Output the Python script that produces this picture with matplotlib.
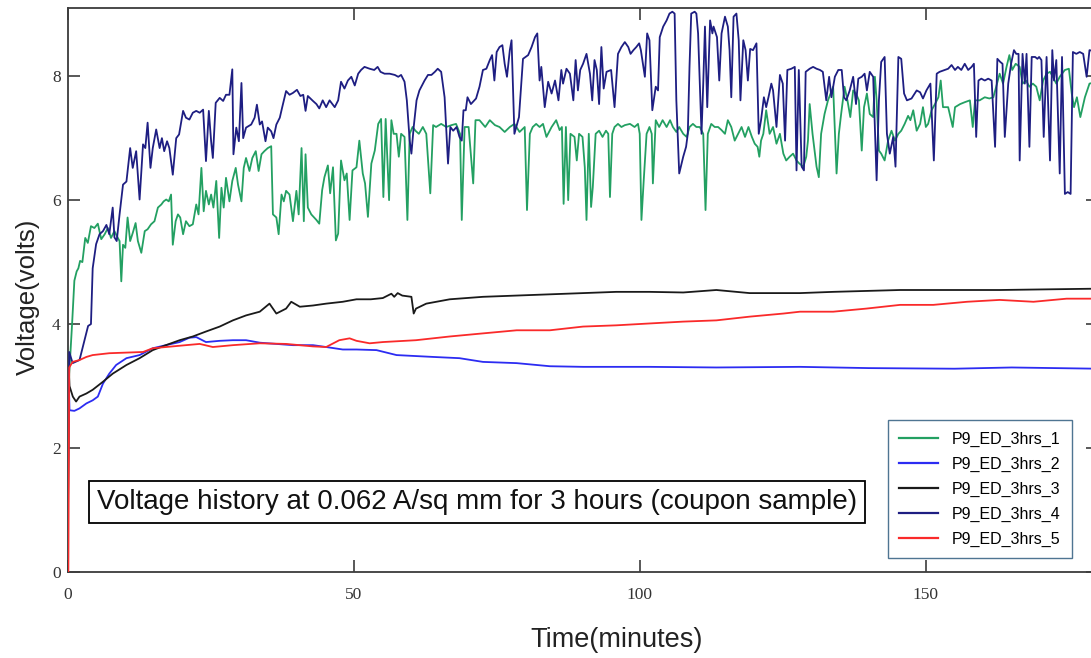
import matplotlib.pyplot as plt
import numpy as np

LABELS = ["P9_ED_3hrs_1", "P9_ED_3hrs_2", "P9_ED_3hrs_3", "P9_ED_3hrs_4", "P9_ED_3hrs_5"]
COLORS = ["#23a062", "#2c2cf2", "#1a1a1a", "#1e1e82", "#fa2a2a"]
TITLE = "Voltage history at 0.062 A/sq mm for 3 hours (coupon sample)"

# (time in minutes, voltage)
run_1 = np.array([
    (0, 0), (0.3, 3.2), (0.8, 4.0), (1.2, 4.7), (1.6, 4.85), (1.9, 4.9), (2.2, 5.02), (2.6, 5.0),
    (3.1, 5.39), (3.55, 5.31), (4.1, 5.58), (4.7, 5.55), (5.3, 5.62), (5.9, 5.37), (6.5, 5.45),
    (7.05, 5.55), (7.6, 5.39), (8.2, 5.5), (8.8, 5.39), (9.1, 5.34), (9.4, 4.69), (9.7, 5.28),
    (10.1, 5.23), (10.5, 5.72), (10.95, 5.34), (11.4, 5.47), (11.9, 5.63), (12.3, 5.34), (12.9, 5.15),
    (13.5, 5.5), (14.0, 5.53), (14.6, 5.61), (15.2, 5.66), (15.8, 5.88), (16.4, 5.93), (16.8, 5.98),
    (17.25, 6.01), (17.7, 5.98), (18.1, 6.09), (18.4, 5.28), (18.9, 5.66), (19.3, 5.77), (19.7, 5.72),
    (20.2, 5.45), (20.7, 5.66), (21.3, 5.58), (21.9, 5.61), (22.5, 5.93), (22.9, 5.77), (23.4, 6.52),
    (23.8, 5.82), (24.2, 6.15), (24.7, 5.93), (25.1, 6.09), (25.5, 5.88), (26.0, 6.31), (26.5, 5.39),
    (26.9, 6.2), (27.3, 5.88), (27.7, 6.36), (28.3, 5.98), (28.8, 6.31), (29.4, 6.52), (29.8, 6.25),
    (30.4, 5.98), (30.8, 6.52), (31.2, 6.68), (31.8, 6.47), (32.3, 6.68), (32.9, 6.79), (33.4, 6.47),
    (33.9, 6.74), (34.4, 6.79), (35.0, 6.84), (35.6, 6.87), (35.9, 5.77), (36.5, 5.72), (36.9, 5.45),
    (37.4, 6.09), (37.8, 5.98), (38.2, 6.15), (38.8, 6.09), (39.4, 5.66), (40.0, 6.15), (40.4, 5.77),
    (40.9, 6.84), (41.3, 5.66), (41.6, 6.74), (42.0, 5.88), (42.6, 5.77), (43.5, 5.68), (44.0, 5.62),
    (44.5, 6.16), (44.9, 6.37), (45.5, 6.56), (45.9, 6.11), (46.4, 6.53), (46.9, 5.35), (47.3, 5.46),
    (47.8, 6.64), (48.4, 6.32), (48.8, 6.43), (49.3, 5.68), (49.8, 6.48), (50.5, 6.53), (51.0, 6.96),
    (51.6, 6.43), (52.0, 6.27), (52.5, 5.73), (53.1, 6.59), (53.7, 6.8), (54.3, 7.23), (54.8, 7.31),
    (55.2, 6.05), (55.6, 7.31), (56.2, 6.0), (56.6, 7.29), (57.0, 7.07), (57.5, 7.07), (57.9, 6.7),
    (58.3, 7.07), (58.9, 7.02), (59.4, 5.68), (59.8, 7.07), (60.3, 7.18), (60.8, 7.12), (61.4, 7.07),
    (62.1, 7.18), (62.7, 7.07), (63.4, 6.11), (63.9, 7.21), (64.4, 7.18), (65.3, 7.23), (66.2, 7.18),
    (67.1, 7.21), (67.9, 7.23), (68.6, 7.07), (68.9, 5.68), (69.4, 7.18), (70.1, 7.18), (70.9, 6.27),
    (71.3, 7.29), (72.0, 7.29), (73.0, 7.18), (73.8, 7.29), (74.7, 7.21), (75.5, 7.18), (76.4, 7.1),
    (77.3, 7.18), (78.1, 7.23), (79.0, 7.1), (79.9, 7.18), (80.3, 5.84), (80.8, 7.07), (81.3, 7.18),
    (81.9, 7.23), (82.5, 7.18), (83.1, 7.23), (83.7, 7.02), (84.6, 7.18), (85.4, 7.29), (86.0, 7.13),
    (86.4, 7.18), (86.7, 5.94), (87.1, 7.18), (87.5, 6.0), (87.9, 7.07), (88.6, 7.02), (89.0, 6.64),
    (89.4, 7.07), (90.0, 7.02), (90.4, 6.53), (90.7, 5.68), (91.1, 7.07), (91.5, 5.89), (91.8, 6.21),
    (92.3, 7.07), (92.9, 7.12), (93.5, 7.02), (94.1, 7.12), (94.5, 7.07), (94.8, 6.05), (95.2, 7.07),
    (95.6, 7.18), (96.2, 7.23), (96.8, 7.18), (97.4, 7.21), (98.3, 7.23), (99.1, 7.18), (99.7, 7.23),
    (100.0, 7.07), (100.3, 5.68), (100.7, 6.32), (101.2, 7.07), (101.7, 7.18), (102.1, 7.07),
    (102.3, 6.27), (102.8, 7.29), (103.4, 7.18), (104.0, 7.29), (104.7, 7.18), (105.3, 7.29),
    (105.8, 7.18), (106.4, 7.1), (106.9, 7.18), (107.6, 7.07), (108.2, 7.02), (108.7, 7.18),
    (109.3, 7.23), (109.9, 7.18), (110.5, 7.18), (111.1, 7.07), (111.5, 5.84), (111.9, 7.07),
    (112.5, 7.23), (113.1, 7.18), (113.7, 7.18), (114.3, 7.13), (114.9, 7.07), (115.4, 7.29),
    (116.0, 7.18), (116.6, 6.96), (117.2, 7.07), (117.8, 7.18), (118.4, 7.02), (119.0, 7.18),
    (119.6, 7.02), (120.1, 6.91), (120.6, 6.86), (120.9, 6.7), (121.2, 6.96), (121.6, 7.07),
    (122.1, 7.45), (122.7, 7.07), (123.3, 7.18), (123.9, 6.91), (124.5, 7.07), (125.1, 6.75),
    (125.6, 6.64), (126.2, 6.7), (126.8, 6.75), (127.4, 6.64), (127.9, 6.59), (128.6, 6.54),
    (129.1, 6.7), (129.4, 6.96), (129.7, 7.55), (130.2, 7.07), (130.9, 6.54), (131.3, 6.37),
    (131.7, 7.07), (132.3, 7.39), (132.9, 7.61), (133.8, 7.83), (134.4, 6.43), (134.8, 7.07),
    (135.2, 7.39), (135.8, 7.83), (136.3, 7.61), (136.8, 7.34), (137.3, 7.77), (137.8, 7.72),
    (138.3, 7.61), (138.8, 6.8), (139.2, 7.5), (139.7, 7.72), (140.2, 7.39), (140.8, 7.34),
    (141.1, 7.99), (141.4, 7.61), (141.8, 6.8), (142.2, 6.75), (142.8, 6.64), (143.4, 6.96),
    (144.0, 7.12), (144.6, 6.96), (145.2, 7.07), (145.7, 7.12), (146.3, 7.23), (146.9, 7.36),
    (147.3, 7.29), (147.8, 7.45), (148.4, 7.12), (149.0, 7.23), (149.5, 7.5), (150.0, 7.18),
    (150.4, 7.23), (151.0, 7.45), (151.6, 7.55), (152.2, 7.66), (152.6, 7.93), (153.0, 7.5),
    (153.9, 7.5), (154.7, 7.18), (155.1, 7.5), (156.0, 7.55), (156.8, 7.58), (157.7, 7.61),
    (158.2, 7.18), (158.6, 7.61), (159.4, 7.61), (160.3, 7.66), (161.1, 7.64), (161.8, 7.66),
    (162.3, 7.83), (162.9, 8.04), (163.5, 7.88), (164.1, 8.15), (164.6, 8.34), (165.1, 8.1),
    (165.7, 8.2), (166.4, 8.15), (166.9, 7.88), (167.5, 7.93), (168.1, 7.83), (168.7, 7.88),
    (169.3, 7.83), (169.9, 7.61), (170.5, 7.93), (171.1, 8.04), (171.7, 8.07), (172.2, 7.99),
    (172.8, 7.88), (173.4, 7.99), (174.3, 8.1), (175.0, 8.12), (175.5, 7.72), (175.9, 7.5),
    (176.4, 7.66), (177.0, 7.34), (177.8, 7.66), (178.6, 7.88), (179.5, 7.9),
])

run_2 = np.array([
    (0, 0), (0.2, 3.2), (0.35, 2.61), (1.2, 2.6), (2.1, 2.64), (3.3, 2.72), (4.4, 2.77), (5.3, 2.83),
    (6.2, 3.04), (7.3, 3.2), (8.5, 3.34), (10.3, 3.45), (12.6, 3.5), (14.9, 3.61), (17.2, 3.66),
    (19.6, 3.71), (21.3, 3.78), (22.5, 3.79), (24.2, 3.71), (26.6, 3.73), (28.9, 3.74), (31.2, 3.74),
    (33.6, 3.7), (36.5, 3.68), (39.4, 3.66), (42.9, 3.66), (45.2, 3.63), (48.1, 3.59), (50.5, 3.59),
    (54.0, 3.58), (57.5, 3.5), (63.9, 3.47), (68.5, 3.45), (72.6, 3.39), (78.5, 3.37), (84.3, 3.32),
    (90.1, 3.31), (101.7, 3.31), (113.4, 3.3), (128.0, 3.31), (140.0, 3.29), (155.0, 3.28),
    (165.0, 3.3), (180.0, 3.28),
])

run_3 = np.array([
    (0, 0), (0.2, 3.3), (0.35, 3.0), (0.93, 2.83), (1.5, 2.75), (2.1, 2.83), (3.3, 2.88), (4.4, 2.94),
    (6.2, 3.07), (7.9, 3.2), (10.3, 3.34), (12.6, 3.45), (14.9, 3.58), (17.2, 3.66), (19.6, 3.74),
    (21.9, 3.8), (24.2, 3.88), (26.6, 3.96), (28.9, 4.06), (31.2, 4.14), (33.6, 4.2), (35.3, 4.33),
    (36.5, 4.17), (38.2, 4.25), (39.1, 4.36), (40.6, 4.28), (42.9, 4.3), (45.2, 4.33), (48.1, 4.36),
    (50.5, 4.4), (53.0, 4.4), (55.1, 4.42), (56.6, 4.49), (57.1, 4.44), (57.7, 4.5), (58.5, 4.46),
    (60.1, 4.44), (60.5, 4.17), (60.9, 4.25), (62.7, 4.33), (66.8, 4.4), (72.6, 4.44), (81.3, 4.47),
    (90.1, 4.5), (95.9, 4.52), (101.7, 4.52), (107.6, 4.51), (113.4, 4.55), (119.2, 4.5),
    (128.0, 4.5), (133.8, 4.52), (145.5, 4.55), (162.9, 4.55), (178.7, 4.57), (180.0, 4.57),
])

run_4 = np.array([
    (0, 0), (0.3, 3.55), (0.9, 3.37), (2.1, 3.42), (3.0, 3.75), (3.6, 3.97), (4.1, 4.0), (4.4, 4.9),
    (5.0, 5.29), (5.6, 5.45), (6.2, 5.5), (6.8, 5.6), (7.3, 5.45), (7.9, 5.88), (8.2, 5.4), (8.6, 5.34),
    (9.1, 5.77), (9.7, 6.25), (10.3, 6.3), (10.95, 6.84), (11.4, 6.52), (12.0, 6.79), (12.6, 6.01),
    (13.2, 6.9), (13.6, 6.84), (14.0, 7.25), (14.5, 6.52), (14.9, 6.84), (15.5, 7.14), (16.1, 6.84),
    (16.5, 7.0), (16.9, 6.79), (17.4, 6.95), (17.8, 6.84), (18.4, 6.41), (19.0, 7.0), (19.5, 7.06),
    (20.2, 7.44), (20.7, 7.33), (21.3, 7.3), (21.9, 7.41), (22.5, 7.44), (23.1, 7.41), (23.7, 7.46),
    (24.2, 6.63), (24.7, 7.44), (25.1, 6.95), (25.4, 6.68), (25.9, 7.57), (26.6, 7.65), (27.2, 7.6),
    (27.7, 7.7), (28.3, 7.7), (28.8, 8.11), (29.0, 6.74), (29.5, 7.17), (29.95, 6.95), (30.4, 7.89),
    (30.7, 7.0), (31.2, 7.17), (32.1, 7.22), (32.7, 7.33), (33.1, 7.54), (33.6, 7.22), (34.0, 7.27),
    (34.6, 6.95), (35.0, 7.17), (35.6, 7.11), (36.0, 7.0), (36.5, 7.22), (37.1, 7.33), (37.5, 7.49),
    (38.2, 7.76), (38.8, 7.7), (39.4, 7.73), (40.1, 7.78), (40.7, 7.68), (41.2, 7.7), (41.6, 7.44),
    (42.0, 7.68), (42.9, 7.6), (43.5, 7.55), (44.0, 7.48), (44.6, 7.61), (45.2, 7.5), (45.8, 7.61),
    (46.7, 7.5), (47.3, 7.61), (47.8, 7.91), (48.4, 7.8), (49.0, 7.93), (49.6, 7.99), (50.2, 7.85),
    (50.8, 8.04), (51.3, 8.1), (51.9, 8.15), (52.8, 8.12), (53.6, 8.1), (54.2, 8.15), (54.7, 8.07),
    (55.4, 8.04), (56.3, 8.04), (57.2, 8.02), (57.8, 7.99), (58.3, 8.02), (58.9, 7.91), (59.3, 7.61),
    (59.8, 6.96), (60.1, 6.75), (60.5, 7.18), (61.0, 7.61), (61.5, 7.77), (62.4, 7.93), (63.0, 8.02),
    (63.6, 8.02), (64.2, 8.07), (64.7, 8.12), (65.3, 8.07), (65.9, 7.66), (66.5, 6.59), (66.9, 7.18),
    (67.4, 7.12), (68.0, 7.18), (68.5, 7.02), (68.9, 6.96), (69.2, 7.45), (69.6, 7.45), (69.9, 7.66),
    (70.5, 7.55), (71.4, 7.64), (72.0, 7.83), (72.6, 8.1), (73.2, 8.12), (73.8, 8.26), (74.2, 8.34),
    (74.6, 7.93), (75.0, 8.39), (75.5, 8.47), (76.0, 8.5), (76.4, 8.2), (76.8, 7.99), (77.3, 8.42),
    (77.6, 8.58), (78.1, 7.07), (78.9, 7.34), (79.6, 8.28), (80.5, 8.34), (81.1, 8.47), (81.7, 8.63),
    (82.1, 8.69), (82.5, 7.93), (82.8, 8.15), (83.4, 7.5), (84.0, 7.91), (84.6, 7.72), (85.2, 7.93),
    (85.8, 7.61), (86.3, 8.1), (86.6, 7.88), (87.2, 8.12), (87.8, 8.04), (88.4, 7.61), (88.8, 8.26),
    (89.2, 7.77), (89.6, 8.1), (90.1, 8.2), (90.7, 8.36), (91.3, 8.04), (91.7, 7.61), (92.1, 8.26),
    (92.5, 8.1), (92.9, 7.55), (93.3, 8.47), (93.7, 7.8), (94.2, 8.07), (95.0, 8.1), (95.6, 7.5),
    (96.2, 8.36), (96.8, 8.47), (97.4, 8.55), (98.0, 8.47), (98.4, 8.36), (98.9, 8.42), (99.4, 8.47),
    (99.9, 8.53), (100.2, 8.42), (100.9, 7.99), (101.3, 8.69), (101.7, 8.58), (102.2, 7.45),
    (102.8, 7.83), (103.2, 7.77), (103.5, 8.63), (104.1, 8.8), (104.7, 8.9), (105.2, 9.01),
    (105.7, 9.04), (106.1, 9.01), (106.4, 7.61), (106.9, 6.43), (107.6, 6.7), (108.1, 6.86),
    (108.4, 7.07), (108.7, 8.15), (109.0, 9.01), (109.6, 9.04), (109.9, 9.01), (110.2, 8.69),
    (110.8, 7.07), (111.1, 7.88), (111.4, 8.8), (111.8, 7.5), (112.3, 8.9), (112.7, 8.69),
    (112.9, 8.8), (113.5, 8.63), (113.9, 7.93), (114.3, 8.69), (114.9, 8.96), (115.4, 8.8),
    (115.7, 8.42), (116.0, 7.66), (116.4, 8.96), (116.9, 9.01), (117.3, 8.58), (117.6, 7.61),
    (118.1, 8.58), (118.5, 8.42), (118.9, 7.93), (119.3, 8.44), (119.8, 8.42), (120.4, 8.53),
    (120.8, 7.07), (121.2, 7.29), (121.7, 7.66), (122.1, 7.5), (122.5, 7.66), (123.0, 7.88),
    (123.3, 7.77), (123.9, 7.18), (124.5, 8.02), (125.0, 7.88), (125.4, 6.96), (125.8, 8.1),
    (126.5, 8.12), (127.1, 8.15), (127.4, 6.48), (127.8, 8.1), (128.3, 6.54), (128.7, 6.48),
    (129.0, 8.07), (129.7, 8.12), (130.3, 8.15), (130.9, 8.12), (131.5, 8.1), (132.0, 8.07),
    (132.6, 7.61), (133.1, 7.99), (133.5, 7.66), (134.1, 7.99), (134.7, 8.1), (135.3, 8.1),
    (135.7, 7.66), (136.1, 7.61), (136.7, 7.77), (137.3, 7.99), (137.8, 7.55), (138.2, 7.96),
    (138.8, 7.99), (139.3, 8.04), (139.7, 7.77), (140.2, 8.07), (140.8, 7.99), (141.4, 6.32),
    (141.8, 7.61), (142.2, 8.23), (142.8, 8.31), (143.2, 7.07), (143.7, 6.75), (144.3, 7.02),
    (144.7, 6.54), (145.2, 8.31), (145.7, 8.28), (146.2, 7.72), (146.7, 7.61), (147.5, 7.64),
    (148.4, 7.77), (149.0, 7.74), (149.5, 7.64), (150.1, 7.77), (150.8, 7.88), (151.4, 6.64),
    (151.9, 8.04), (152.4, 8.07), (153.3, 8.1), (153.9, 8.12), (154.5, 8.18), (155.1, 8.1),
    (155.6, 8.15), (156.2, 8.1), (156.8, 8.2), (157.4, 8.1), (158.0, 8.15), (158.4, 8.2),
    (158.8, 7.02), (159.2, 7.93), (159.7, 7.96), (160.3, 7.93), (160.9, 7.96), (161.5, 7.93),
    (162.1, 6.86), (162.5, 8.28), (163.0, 8.23), (163.4, 8.2), (163.8, 7.02), (164.4, 7.88),
    (164.9, 8.2), (165.4, 8.42), (165.8, 8.36), (166.2, 8.36), (166.4, 6.64), (166.9, 8.36),
    (167.3, 7.88), (167.6, 8.36), (168.1, 6.86), (168.5, 8.31), (169.1, 8.31), (169.5, 8.28),
    (169.8, 8.31), (170.2, 8.26), (170.6, 7.02), (171.1, 8.31), (171.7, 6.64), (172.1, 8.42),
    (172.4, 7.93), (172.8, 8.26), (173.4, 6.43), (173.8, 8.31), (174.3, 6.1), (174.8, 6.13),
    (175.3, 6.1), (175.7, 8.39), (176.3, 8.36), (176.9, 8.39), (177.5, 8.36), (178.1, 7.99),
    (178.6, 8.42), (179.5, 8.4),
])

run_5 = np.array([
    (0.15, 0), (0.3, 3.3), (0.9, 3.39), (2.1, 3.42), (3.3, 3.47), (4.4, 3.5), (7.3, 3.53), (10.3, 3.54),
    (13.2, 3.55), (14.9, 3.61), (17.2, 3.63), (20.7, 3.66), (23.1, 3.68), (25.4, 3.63), (28.9, 3.66),
    (33.6, 3.69), (38.2, 3.68), (42.9, 3.64), (45.2, 3.63), (47.5, 3.74), (49.3, 3.77), (50.5, 3.73),
    (52.8, 3.69), (55.1, 3.71), (60.9, 3.74), (66.8, 3.8), (72.6, 3.85), (78.5, 3.9), (84.3, 3.9),
    (87.2, 3.93), (90.1, 3.96), (95.9, 3.98), (101.7, 4.01), (107.6, 4.04), (113.4, 4.06),
    (119.2, 4.12), (125.1, 4.17), (128.0, 4.2), (133.8, 4.2), (139.6, 4.25), (145.5, 4.31),
    (151.3, 4.31), (157.2, 4.36), (162.9, 4.39), (168.8, 4.36), (174.6, 4.41), (180.0, 4.41),
])

RUNS = [run_1, run_2, run_3, run_4, run_5]


def main():
    fig = plt.figure(figsize=(10.91, 6.58), dpi=100)
    # the plot is cropped on the right in the original, so the axes run past the figure edge
    ax = fig.add_axes([67.5 / 1091, 86 / 658, 1030 / 1091, 564 / 658])

    for data, label, color in zip(RUNS, LABELS, COLORS):
        ax.plot(data[:, 0], data[:, 1], color=color, linewidth=1.3, label=label, zorder=3)

    ax.set_xlim(0, 180)
    ax.set_ylim(0, 9.1)
    ax.set_xticks([0, 50, 100, 150])
    ax.set_yticks([0, 2, 4, 6, 8])

    for spine in ax.spines.values():
        spine.set_color("#3c3c3c")
        spine.set_linewidth(1.3)

    ax.tick_params(direction="in", length=8.5, width=1.2, color="#3c3c3c",
                   top=True, right=True, labelsize=12.5, labelcolor="#333333")
    ax.tick_params(axis="x", pad=10.5)
    ax.tick_params(axis="y", pad=5)
    for lab in ax.get_xticklabels() + ax.get_yticklabels():
        lab.set_fontfamily("Liberation Serif")

    ax.set_xlabel("Time(minutes)", fontsize=19.5, family="Liberation Sans", color="#222222")
    ax.set_ylabel("Voltage(volts)", fontsize=18.5, family="Liberation Sans", color="#222222")
    ax.xaxis.set_label_coords(0.5335, -0.1206)
    ax.xaxis.label.set_va("center")
    ax.yaxis.set_label_coords(-0.0385, 0.4876)
    ax.yaxis.label.set_va("center")

    ax.text(0.3976, 0.124, TITLE, transform=ax.transAxes, ha="center", va="center",
            fontsize=20, family="Liberation Sans", color="#111111",
            bbox=dict(boxstyle="square,pad=0.3", facecolor="white", edgecolor="black", linewidth=1.3))

    leg = ax.legend(loc="lower right", bbox_to_anchor=(0.9752, 0.0248), borderaxespad=0,
                    fancybox=False, framealpha=1, edgecolor="#4f7592",
                    prop={"family": "Liberation Sans", "size": 11.5},
                    handlelength=2.4, handletextpad=0.9, labelspacing=0.62, borderpad=0.7)
    leg.get_frame().set_linewidth(1.0)
    for line in leg.get_lines():
        line.set_linewidth(1.6)

    fig.savefig("out.png", dpi=100)


if __name__ == "__main__":
    main()
